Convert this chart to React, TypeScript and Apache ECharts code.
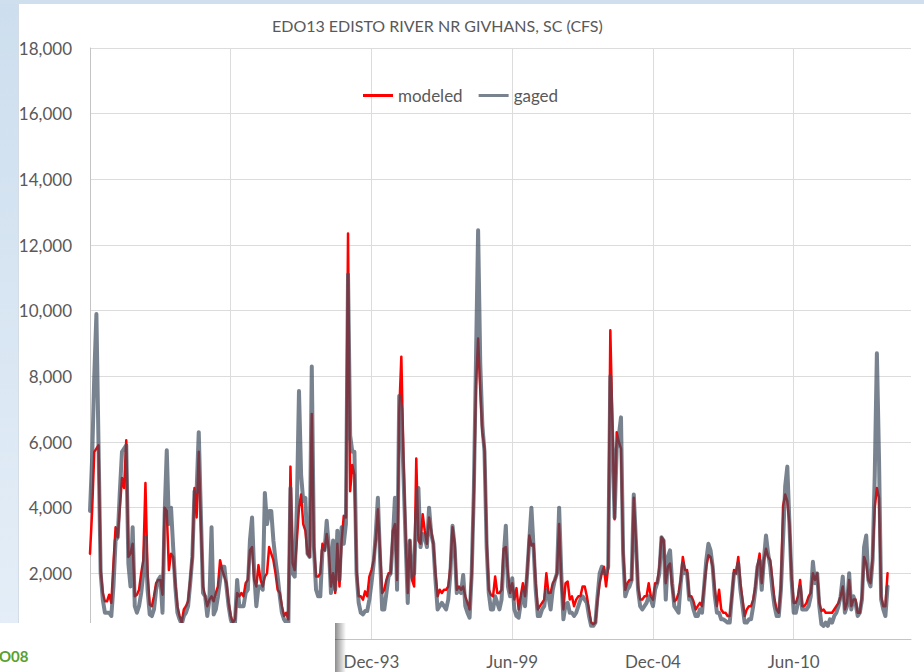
import React, { useEffect, useRef } from "react";
import * as echarts from "echarts";

// Monthly flow at EDO13, Edisto River near Givhans, SC (cfs), Dec-82 onward
const MONTH_NAMES = ["Jan", "Feb", "Mar", "Apr", "May", "Jun", "Jul", "Aug", "Sep", "Oct", "Nov", "Dec"];
const START_YEAR = 1982;
const START_MONTH = 11; // December
const MONTH_COUNT = 386;

const months: string[] = [];
for (let k = 0; k < MONTH_COUNT; k++) {
  const t = START_MONTH + k;
  const yr = START_YEAR + Math.floor(t / 12);
  months.push(`${MONTH_NAMES[t % 12]}-${String(yr % 100).padStart(2, "0")}`);
}

const gaged: number[] = [
  3900, 5500, 8000, 9900, 5900, 2000, 1200, 800, 800, 800, 700, 1600,
  3000, 3100, 4500, 5700, 5800, 5900, 2300, 1600, 3400, 1000, 800, 1000,
  1400, 2000, 3100, 1500, 750, 700, 900, 1500, 1800, 1900, 800, 3800,
  5750, 3500, 4000, 2800, 1600, 800, 600, 450, 700, 800, 1000, 1700,
  2500, 4500, 4500, 6300, 3800, 1400, 1300, 700, 1200, 3400, 750, 900,
  1300, 1800, 2200, 2200, 1600, 1000, 600, 400, 500, 1800, 1000, 1000,
  1000, 1400, 1500, 3000, 3700, 2000, 1000, 1600, 1600, 1500, 4450, 3500,
  3900, 3900, 3000, 2400, 1900, 1300, 800, 600, 500, 400, 4600, 2000,
  1900, 4000, 7550, 5000, 4200, 4300, 2600, 2500, 8300, 2800, 1500, 1300,
  1300, 2700, 2700, 3600, 2800, 1400, 3000, 1500, 3300, 1800, 3400, 2900,
  3500, 11100, 6200, 5700, 5700, 2000, 1100, 800, 750, 850, 850, 1200,
  1700, 2300, 3200, 4300, 2500, 900, 900, 1400, 1900, 2000, 3000, 4300,
  1500, 7400, 7000, 5000, 3000, 1100, 3000, 1900, 2000, 3800, 4600, 2800,
  3200, 3100, 2800, 4000, 3200, 2900, 1800, 900, 1000, 1100, 1000, 900,
  1200, 2000, 3450, 2800, 1400, 1500, 1400, 1950, 1000, 800, 650, 2000,
  4500, 8500, 12450, 8400, 6500, 5700, 2800, 1400, 900, 900, 1300, 1100,
  900, 1200, 2500, 3450, 1600, 1300, 1850, 900, 700, 650, 1100, 1450,
  1000, 2000, 3000, 4000, 2800, 1500, 700, 700, 900, 1000, 1500, 1300,
  900, 1500, 1800, 2000, 4000, 2000, 600, 1050, 1100, 800, 800, 700,
  800, 1000, 1200, 1300, 1200, 1100, 700, 400, 400, 500, 1300, 2000,
  2200, 2000, 2000, 2200, 8000, 6000, 3700, 5800, 6200, 6750, 2600, 1300,
  1500, 1600, 1800, 4400, 3000, 1500, 1000, 900, 1000, 1100, 1300, 1200,
  1000, 1500, 1700, 2000, 3100, 3000, 1200, 2500, 2700, 1700, 1000, 900,
  800, 1700, 2300, 2000, 2000, 1200, 1200, 900, 700, 700, 900, 800,
  1600, 2400, 2900, 2700, 2200, 1300, 800, 800, 600, 600, 550, 500,
  500, 1300, 2000, 2000, 2300, 1500, 1000, 500, 500, 600, 600, 1000,
  1500, 2200, 2400, 1500, 2400, 3150, 2600, 2200, 1500, 1000, 700, 700,
  1500, 3000, 4650, 5250, 3500, 1800, 800, 800, 1100, 1600, 900, 900,
  900, 1000, 1300, 2350, 1700, 2000, 1000, 450, 400, 500, 400, 600,
  500, 700, 800, 1000, 1300, 1900, 800, 1000, 2000, 900, 1300, 1100,
  700, 800, 1200, 2800, 3150, 1800, 1600, 2400, 5000, 8700, 5500, 1200,
  900, 700, 1600,
];

const modeled: number[] = [
  2600, 3900, 5700, 5800, 5900, 2100, 1400, 1150, 1150, 1350, 1100, 2300,
  3400, 3100, 4000, 4900, 4600, 6050, 2500, 2600, 2900, 1300, 1350, 1500,
  2000, 2400, 4750, 2000, 1050, 1000, 1300, 1700, 1800, 1800, 1350, 4000,
  3900, 2100, 2600, 2500, 1700, 1000, 700, 500, 900, 1000, 1150, 1800,
  2500, 4600, 3700, 5700, 3500, 1600, 1300, 1000, 1200, 1300, 1150, 1400,
  1600, 2400, 2100, 1900, 1700, 1100, 700, 500, 600, 1400, 1300, 1400,
  1300, 1700, 1800, 2700, 2800, 1800, 1600, 2250, 1800, 1600, 1900, 2000,
  2800, 2600, 2400, 2000, 1500, 1400, 1000, 700, 800, 600, 5250, 2300,
  2100, 3000, 4000, 4400, 3500, 3300, 2600, 2500, 6850, 2800, 1900, 1900,
  2000, 2900, 2700, 3200, 2700, 1600, 2000, 1400, 2900, 1600, 3000, 3750,
  3700, 12350, 4500, 5300, 5000, 2100, 1300, 1300, 1200, 1450, 1300, 1900,
  2100, 2400, 3000, 3950, 2700, 1400, 1500, 1800, 2000, 2000, 3300, 3500,
  1800, 6900, 8600, 5500, 3200, 1400, 3000, 1800, 1600, 5500, 3000, 2900,
  3800, 3300, 2900, 3700, 3300, 2900, 2000, 1300, 1500, 1400, 1500, 1500,
  1600, 2200, 3400, 2900, 1500, 1600, 1500, 1600, 1300, 1100, 900, 2000,
  4500, 7700, 9150, 7600, 6300, 5800, 3000, 1500, 1350, 1300, 1900, 1400,
  1400, 1500, 2750, 2800, 2000, 1400, 1700, 1200, 1550, 900, 1300, 1700,
  1300, 2000, 3150, 2850, 2900, 1700, 900, 1000, 1100, 1200, 2000, 1400,
  1400, 1700, 1800, 2000, 3500, 1800, 900, 1700, 1750, 1200, 1300, 1000,
  1200, 1300, 1300, 1600, 1600, 1300, 900, 500, 450, 500, 1200, 1700,
  2000, 2200, 1600, 2200, 9400, 6500, 3650, 6300, 6000, 5800, 2700, 1500,
  1700, 1800, 1800, 4300, 3000, 1600, 1200, 1200, 1300, 1300, 1700, 1300,
  1200, 1700, 1700, 2200, 3100, 3000, 1700, 2200, 2300, 1600, 1150, 1200,
  1400, 1800, 2500, 2100, 2100, 1300, 1300, 1150, 900, 1000, 1100, 1000,
  1600, 2200, 2550, 2500, 2200, 1500, 1000, 1500, 900, 800, 800, 700,
  700, 1300, 2100, 2000, 2500, 1700, 1200, 700, 900, 1000, 1000, 1200,
  1600, 2200, 2600, 1700, 2400, 2750, 2500, 2400, 1800, 1200, 900, 800,
  1600, 4050, 4400, 4200, 3500, 1900, 1100, 1100, 1300, 1800, 1000, 1000,
  1100, 1300, 1400, 2000, 1800, 2000, 1100, 850, 900, 800, 800, 800,
  800, 900, 1000, 1100, 1300, 1600, 900, 1100, 1800, 1000, 1200, 1200,
  800, 800, 1300, 2500, 2300, 1800, 1700, 2500, 4000, 4600, 4300, 1300,
  1000, 1000, 2000,
];

const SERIES_NAMES = ["modeled", "gaged"];
const CHART_TITLE = "EDO13 EDISTO RIVER NR GIVHANS, SC (CFS)";
const Y_MIN = 0;
const Y_MAX = 18000;
const Y_STEP = 2000;
const X_LABEL_EVERY = 66; // months between date labels
const CORNER_TAG = "O08";

const TEXT_GRAY = "#595959";
const FONT = "Lato, 'Open Sans', sans-serif";

export default function App() {
  const ref = useRef<HTMLDivElement>(null);

  useEffect(() => {
    if (!ref.current) return;
    const chart = echarts.init(ref.current, undefined, { renderer: "svg" });

    chart.setOption({
      animation: false,
      backgroundColor: "#ffffff",
      textStyle: { fontFamily: FONT },
      title: {
        text: CHART_TITLE,
        left: 267,
        top: 12,
        textStyle: { color: TEXT_GRAY, fontSize: 16, fontWeight: "normal", fontFamily: FONT },
      },
      legend: {
        data: SERIES_NAMES,
        left: 363,
        top: 87,
        padding: 0,
        icon: "rect",
        itemWidth: 30,
        itemHeight: 3,
        itemGap: 16,
        textStyle: { color: TEXT_GRAY, fontSize: 17, fontFamily: FONT },
      },
      grid: { left: 90, top: 48, right: 13, bottom: 33, containLabel: false },
      xAxis: {
        type: "category",
        data: months,
        boundaryGap: false,
        axisLine: { show: true, lineStyle: { color: "#c4c4c4", width: 1 } },
        axisTick: { show: false, interval: X_LABEL_EVERY - 1 },
        axisLabel: {
          interval: X_LABEL_EVERY - 1,
          color: TEXT_GRAY,
          fontSize: 17,
          fontFamily: FONT,
          margin: 14,
        },
        splitLine: { show: true, interval: X_LABEL_EVERY - 1, lineStyle: { color: "#dcdcdc", width: 1 } },
      },
      yAxis: {
        type: "value",
        min: Y_MIN,
        max: Y_MAX,
        interval: Y_STEP,
        axisLine: { show: true, lineStyle: { color: "#c4c4c4", width: 1 } },
        axisTick: { show: false },
        axisLabel: {
          color: TEXT_GRAY,
          fontSize: 17,
          fontFamily: FONT,
          margin: 18,
          formatter: (v: number) => v.toLocaleString("en-US"),
        },
        splitLine: { show: true, lineStyle: { color: "#dcdcdc", width: 1 } },
      },
      series: [
        {
          name: SERIES_NAMES[0],
          type: "line",
          data: modeled,
          showSymbol: false,
          symbol: "none",
          color: "#ff0000",
          lineStyle: { color: "#ff0000", width: 2.5, cap: "round", join: "round" },
          z: 2,
        },
        {
          name: SERIES_NAMES[1],
          type: "line",
          data: gaged,
          showSymbol: false,
          symbol: "none",
          color: "rgba(62,78,96,0.7)",
          lineStyle: { color: "rgba(62,78,96,0.7)", width: 4, cap: "round", join: "round" },
          z: 3,
        },
      ],
      graphic: [
        {
          type: "rect",
          z: 50,
          shape: { x: 0, y: 0, width: 18, height: 672 },
          style: {
            fill: new echarts.graphic.LinearGradient(0, 0, 0, 1, [
              { offset: 0, color: "#cddeee" },
              { offset: 1, color: "#e6eff8" },
            ]),
          },
        },
        {
          type: "rect",
          z: 50,
          shape: { x: 0, y: 0, width: 924, height: 4 },
          style: { fill: "#cfdfee" },
        },
        {
          type: "line",
          z: 50,
          shape: { x1: 18.5, y1: 4, x2: 18.5, y2: 672 },
          style: { stroke: "#d4dde6", lineWidth: 1 },
        },
        {
          type: "rect",
          z: 60,
          shape: { x: 335, y: 623, width: 11, height: 49 },
          style: {
            fill: new echarts.graphic.LinearGradient(0, 0, 1, 0, [
              { offset: 0, color: "rgba(0,0,0,0.45)" },
              { offset: 1, color: "rgba(0,0,0,0)" },
            ]),
          },
        },
        {
          type: "rect",
          z: 61,
          shape: { x: 0, y: 623, width: 335, height: 49 },
          style: { fill: "#ffffff" },
        },
        {
          type: "text",
          z: 62,
          x: -1,
          y: 656,
          style: {
            text: CORNER_TAG,
            fill: "#5aa02c",
            fontSize: 15,
            fontWeight: "bold",
            fontFamily: FONT,
            verticalAlign: "middle",
          },
        },
      ],
    });

    return () => chart.dispose();
  }, []);

  return (
    <div
      ref={ref}
      style={{ position: "fixed", left: 0, top: 0, width: 924, height: 672 }}
    />
  );
}
